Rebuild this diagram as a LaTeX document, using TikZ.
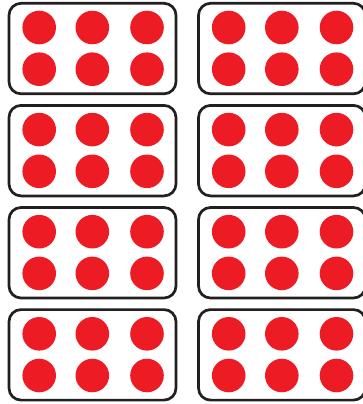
\documentclass[tikz,border=0pt]{standalone}
\usepackage{tikz}
\definecolor{dotred}{RGB}{237,28,36}
\definecolor{framegray}{RGB}{35,31,32}

\begin{document}
\begin{tikzpicture}[x=1pt,y=-1pt,
    frame/.style={draw=framegray,line width=2.7pt,rounded corners=12pt},
    dot/.style={fill=dotred}]
    \useasboundingbox (0,0) rectangle (362,404);
    % two columns of four frames, six dots each
    \foreach \col in {0,1} {
      \foreach \row in {0,...,3} {
        \begin{scope}[shift={(9+189.5*\col,3.3+102.1*\row)}]
          \draw[frame] (0,0) rectangle (167,90.5);
          \foreach \dx in {30.2,83.3,138} {
            \foreach \dy in {24.2,65.9} {
              \fill[dot] (\dx,\dy) circle (16.8);
            }
          }
        \end{scope}
      }
    }
\end{tikzpicture}
\end{document}
